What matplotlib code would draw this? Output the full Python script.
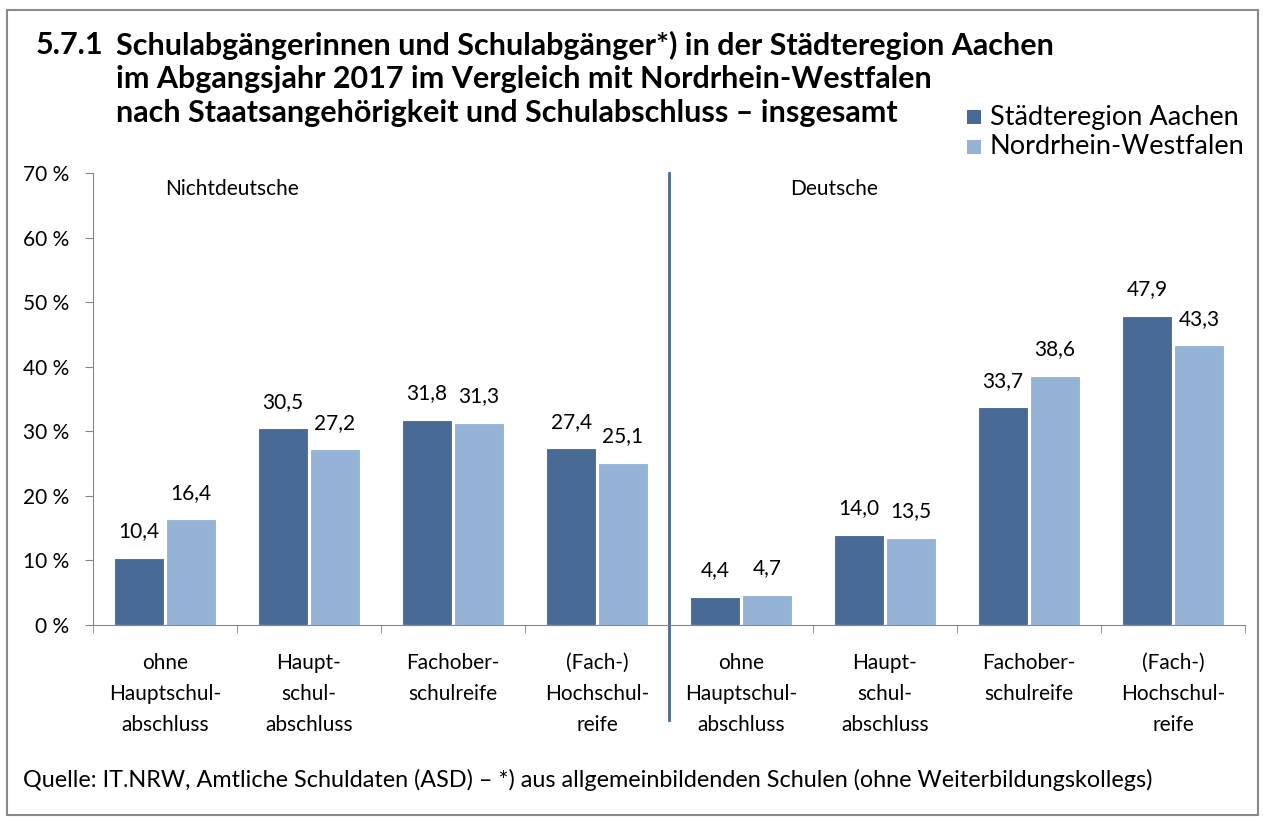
import matplotlib
matplotlib.use("Agg")
import matplotlib.pyplot as plt
from matplotlib.patches import Rectangle
import numpy as np

categories = ["ohne\nHauptschul-\nabschluss", "Haupt-\nschul-\nabschluss", "Fachober-\nschulreife",
              "(Fach-)\nHochschul-\nreife",
              "ohne\nHauptschul-\nabschluss", "Haupt-\nschul-\nabschluss", "Fachober-\nschulreife",
              "(Fach-)\nHochschul-\nreife"]
aachen = [10.4, 30.5, 31.8, 27.4, 4.4, 14.0, 33.7, 47.9]
nrw = [16.4, 27.2, 31.3, 25.1, 4.7, 13.5, 38.6, 43.3]
series_names = ["Städteregion Aachen", "Nordrhein-Westfalen"]
group_names = ["Nichtdeutsche", "Deutsche"]
yticks = [0, 10, 20, 30, 40, 50, 60, 70]

plt.rcParams['font.family'] = ['Lato', 'DejaVu Sans']
c_dark = "#4A6A96"
c_light = "#95B3D7"

fig = plt.figure(figsize=(12.63, 8.21), dpi=100)
W, H = 1263, 821
ax = fig.add_axes([93 / W, 1 - 625 / H, (1245 - 93) / W, (625 - 173) / H])

x = np.arange(len(categories))
bw = 0.345
gap = 0.015
b1 = ax.bar(x - bw / 2 - gap / 2, aachen, bw, color=c_dark, edgecolor="white", linewidth=0.8)
b2 = ax.bar(x + bw / 2 + gap / 2, nrw, bw, color=c_light, edgecolor="white", linewidth=0.8)

for bars, vals in ((b1, aachen), (b2, nrw)):
    for r, v in zip(bars, vals):
        ax.annotate(f"{v:.1f}".replace(".", ","), (r.get_x() + r.get_width() / 2, v),
                    xytext=(0, 19), textcoords="offset points", ha="center", va="center",
                    fontsize=15)

ax.set_xlim(-0.5, len(categories) - 0.5)
ax.set_ylim(0, 70)
ax.set_yticks(yticks)
ax.set_yticklabels([f"{t} %" for t in yticks], fontsize=15)
ax.set_xticks(x)
ax.set_xticklabels(categories, fontsize=15, linespacing=1.7)
ax.tick_params(axis="x", length=0, pad=20)
ax.set_xticks(np.arange(-0.5, len(categories), 1), minor=True)
ax.tick_params(axis="x", which="minor", length=6, color="#868686", direction="out")
ax.tick_params(axis="y", length=6, color="#868686", direction="out", pad=11)
for s in ["top", "right"]:
    ax.spines[s].set_visible(False)
ax.spines["left"].set_color("#868686")
ax.spines["bottom"].set_color("#868686")

# separator line between groups
ax.plot([3.5, 3.5], [0, 1], transform=ax.get_xaxis_transform(), color=c_dark, lw=2, clip_on=False)
ax.plot([3.5, 3.5], [0, -0.21], transform=ax.get_xaxis_transform(), color=c_dark, lw=2, clip_on=False)

ax.text(0.0, 67.5, group_names[0], fontsize=15, ha="left", va="center")
ax.text(4.34, 67.5, group_names[1], fontsize=15, ha="left", va="center")

fig.text(36 / W, 1 - 45 / H, "5.7.1", fontsize=22, fontweight="bold", ha="left", va="center")
title_lines = ["Schulabgängerinnen und Schulabgänger*) in der Städteregion Aachen",
               "im Abgangsjahr 2017 im Vergleich mit Nordrhein-Westfalen",
               "nach Staatsangehörigkeit und Schulabschluss – insgesamt"]
for i, line in enumerate(title_lines):
    fig.text(116 / W, 1 - (45 + 34 * i) / H, line, fontsize=22, fontweight="bold", ha="left", va="center")

# legend
for i, (name, col) in enumerate(zip(series_names, [c_dark, c_light])):
    y = 117 + 30 * i
    fig.patches.append(Rectangle((967 / W, 1 - (y + 7) / H), 14 / W, 14 / H, transform=fig.transFigure,
                                 facecolor=col, edgecolor="none"))
    fig.text(990 / W, 1 - y / H, name, fontsize=19.5, ha="left", va="center")

fig.text(23 / W, 1 - 780 / H,
         "Quelle: IT.NRW, Amtliche Schuldaten (ASD) – *) aus allgemeinbildenden Schulen (ohne Weiterbildungskollegs)",
         fontsize=16.8, ha="left", va="center")

fig.patches.append(Rectangle((7 / W, 1 - 815 / H), 1251 / W, 805 / H, transform=fig.transFigure,
                             facecolor="none", edgecolor="#8a8a8a", lw=1.5))

fig.savefig("out.png", dpi=100)
